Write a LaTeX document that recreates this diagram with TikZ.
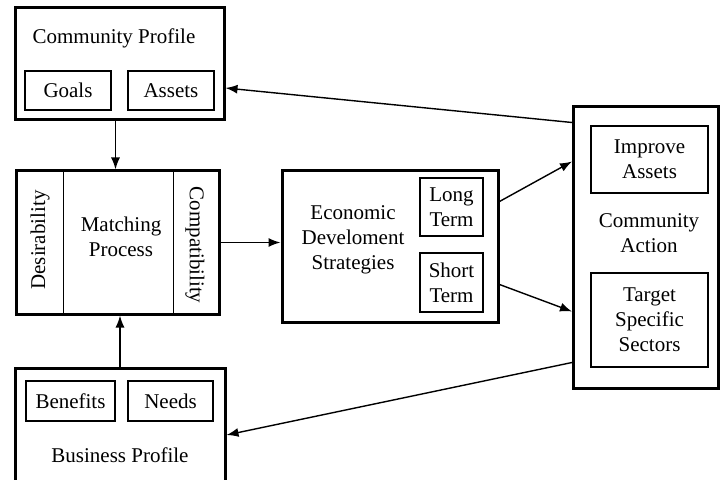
\documentclass[tikz,border=0pt]{standalone}
\usepackage{fontspec}
\setmainfont{Liberation Serif}
\usetikzlibrary{arrows.meta,calc,positioning}

\begin{document}
\begin{tikzpicture}[x=0.5pt,y=-0.5pt,font=\fontsize{10.5}{12.5}\selectfont,
  outerbox/.style={draw,line width=1.5pt,inner sep=0pt},
  innerbox/.style={draw,line width=0.8pt,inner sep=0pt,align=center},
  flowarrow/.style={-{Latex[length=6pt,width=4.5pt]},line width=0.7pt}]
\clip (0,0) rectangle (721,480);
% community profile
\node[outerbox,minimum width=104.5pt,minimum height=56pt] (cp) at (119.5,64) {};
\node (cptitle) at (114,38) {Community Profile};
\node[innerbox,minimum width=43pt,minimum height=19.5pt] (goals) at (68,90.5) {Goals};
\node[innerbox,minimum width=43pt,minimum height=19.5pt] (assets) at (171,90.5) {Assets};
% matching process
\node[outerbox,minimum width=101.5pt,minimum height=71.5pt] (mt) at (117.5,242.5) {};
\draw[line width=0.6pt] ($(mt.north west)+(49,0)$) -- ($(mt.south west)+(49,0)$);
\draw[line width=0.6pt] ($(mt.north east)+(-47,0)$) -- ($(mt.south east)+(-47,0)$);
\node[rotate=90] (desir) at (40,240) {Desirability};
\node[rotate=-90] (compat) at (195,245) {Compatibility};
\node[align=center] (mptitle) at (121,237) {Matching\\Process};
% strategies
\node[outerbox,minimum width=108pt,minimum height=75.5pt] (econ) at (390,246.5) {};
\node[align=center] (econtitle) at (353,240) {Economic\\Develoment\\Strategies};
\node[innerbox,minimum width=31.5pt,minimum height=29pt] (long) at (451.5,207) {Long\\Term};
\node[innerbox,minimum width=31.5pt,minimum height=29.5pt] (short) at (451.5,282.5) {Short\\Term};
% community action
\node[outerbox,minimum width=72.5pt,minimum height=140.5pt] (ca) at (646,247.5) {};
\node[align=center] (catitle) at (649,233) {Community\\Action};
\node[innerbox,minimum width=58.5pt,minimum height=33.5pt] (improve) at (649.5,159.5) {Improve\\Assets};
\node[innerbox,minimum width=58.5pt,minimum height=47pt] (target) at (649.5,320) {Target\\Specific\\Sectors};
% business profile
\node[outerbox,minimum width=105pt,minimum height=61pt] (bp) at (120,429) {};
\node (bptitle) at (120,455) {Business Profile};
\node[innerbox,minimum width=44.5pt,minimum height=20pt] (benefits) at (70.5,401) {Benefits};
\node[innerbox,minimum width=42.5pt,minimum height=20pt] (needs) at (170.5,401) {Needs};
% connectors
\draw[flowarrow] ($(cp.south)+(-4,0)$) -- ($(cp.south |- mt.north)+(-4,0)$);
\draw[flowarrow] (bp.north) -- (bp.north |- mt.south);
\draw[flowarrow] ($(mt.east)+(0,0)$) -- (mt.east -| econ.west);
\draw[flowarrow] ($(econ.east)+(0,-45)$) -- ($(ca.west)+(0,-86)$);
\draw[flowarrow] ($(econ.east)+(0,38)$) -- ($(ca.west)+(0,64)$);
\draw[flowarrow] ($(ca.west)+(0,-125)$) -- ($(cp.east)+(0,24)$);
\draw[flowarrow] ($(ca.west)+(0,115)$) -- ($(bp.east)+(0,6)$);
\end{tikzpicture}
\end{document}
